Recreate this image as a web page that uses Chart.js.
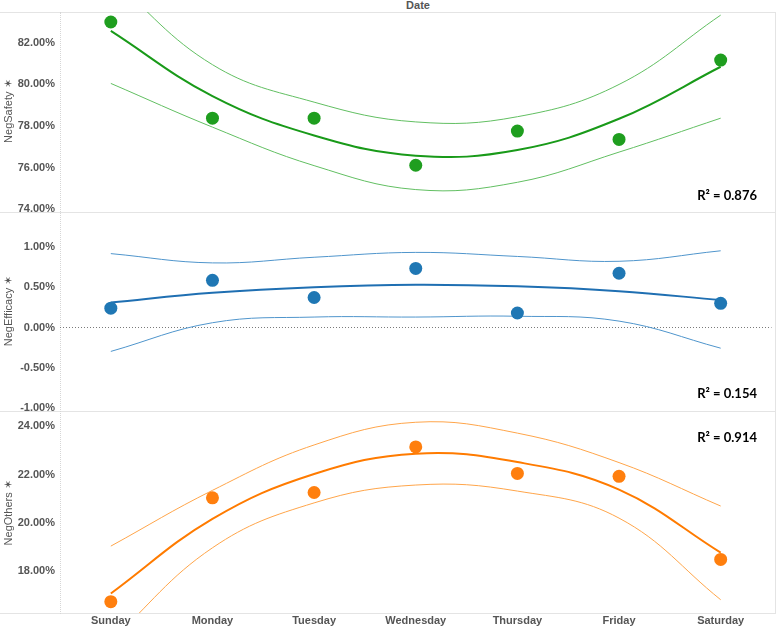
<!DOCTYPE html>
<html>
<head>
<meta charset="utf-8">
<script src="https://cdn.jsdelivr.net/npm/chart.js@4"></script>
<style>
  body { margin: 0; background: #fff; }
  #wrap { position: relative; width: 778px; height: 628px; overflow: hidden; font-family: "Liberation Sans", Arial, sans-serif; }
  canvas { position: absolute; left: 0; }
  .hline { position: absolute; left: 0; width: 775px; border-top: 1px solid #e4e4e4; }
  .vline { position: absolute; top: 12px; height: 602px; }
  .r2 { position: absolute; right: 21px; font: bold 13px Lato, "Open Sans", sans-serif; color: #000; line-height: 14px; }
  #head { position: absolute; top: 0; left: 60px; width: 716px; text-align: center; font-weight: bold; font-size: 11px; color: #555; line-height: 11px; }
</style>
</head>
<body>
<div id="wrap">
  <div id="head">Date</div>
  <div class="hline" style="top:12px"></div>
  <div class="hline" style="top:212px"></div>
  <div class="hline" style="top:411px"></div>
  <div class="hline" style="top:613px"></div>
  <div class="vline" style="left:60px; border-left:1px dotted #d6d6d6"></div>
  <div class="vline" style="left:775px; border-left:1px solid #e4e4e4"></div>
  <canvas id="safety" width="778" height="222" style="top:0px"></canvas>
  <canvas id="efficacy" width="778" height="218" style="top:202px"></canvas>
  <canvas id="others" width="778" height="227" style="top:401px"></canvas>
  <div class="r2" style="top:188px">R² = 0.876</div>
  <div class="r2" style="top:386px">R² = 0.154</div>
  <div class="r2" style="top:430px">R² = 0.914</div>
</div>
<script>
// days of the week on the x axis
const days = ["Sunday", "Monday", "Tuesday", "Wednesday", "Thursday", "Friday", "Saturday"];

// NegSafety (%)
const safetyPoints = [83.0, 78.38, 78.38, 76.12, 77.76, 77.36, 81.17];
const safetyTrend  = [82.57, 79.44, 77.55, 76.58, 76.85, 78.35, 80.85];
const safetyUpper  = [85.1, 80.95, 79.15, 78.2, 78.45, 80.0, 83.33];
const safetyLower  = [80.05, 77.95, 76.1, 74.95, 75.3, 76.75, 78.38];
const safetyTicks  = [74, 76, 78, 80, 82];

// NegEfficacy (%)
const efficacyPoints = [0.24, 0.585, 0.372, 0.732, 0.18, 0.672, 0.30];
const efficacyTrend  = [0.31, 0.43, 0.50, 0.53, 0.51, 0.45, 0.34];
const efficacyUpper  = [0.915, 0.80, 0.87, 0.93, 0.88, 0.82, 0.95];
const efficacyLower  = [-0.295, 0.06, 0.13, 0.13, 0.14, 0.08, -0.255];
const efficacyTicks  = [-1, -0.5, 0, 0.5, 1];

// NegOthers (%)
const othersPoints = [16.74, 21.04, 21.26, 23.15, 22.05, 21.93, 18.49];
const othersTrend  = [17.08, 20.17, 22.03, 22.87, 22.52, 21.38, 18.77];
const othersUpper  = [19.04, 21.35, 23.23, 24.17, 23.72, 22.5, 20.7];
const othersLower  = [15.12, 18.97, 20.83, 21.57, 21.32, 20.2, 16.82];
const othersTicks  = [18, 20, 22, 24];

const tickFont = { family: "Liberation Sans", size: 11, weight: "bold" };

function makePanel(id, o) {
  const datasets = [
    { data: o.points, showLine: false, pointRadius: 6.5, pointHoverRadius: 6.5,
      pointBorderWidth: 0, backgroundColor: o.dot, borderColor: o.dot, order: 0 },
    { data: o.trend, borderColor: o.line, borderWidth: 2, pointRadius: 0, tension: 0.4, order: 1 },
    { data: o.upper, borderColor: o.band, borderWidth: 1, pointRadius: 0, tension: 0.4, order: 2 },
    { data: o.lower, borderColor: o.band, borderWidth: 1, pointRadius: 0, tension: 0.4, order: 2 }
  ];
  const xAxis = {
    display: o.showX,
    offset: true,
    grid: { display: false, drawTicks: false },
    border: { display: false },
    ticks: { padding: 1, color: "#555", font: tickFont, maxRotation: 0, autoSkip: false }
  };
  if (o.showX) xAxis.afterFit = s => { s.height = 15; };

  new Chart(document.getElementById(id), {
    type: "line",
    data: { labels: days, datasets: datasets },
    options: {
      responsive: false,
      animation: false,
      events: [],
      layout: { padding: o.padding },
      plugins: { legend: { display: false }, tooltip: { enabled: false } },
      scales: {
        x: xAxis,
        y: {
          min: o.min,
          max: o.max,
          afterFit: s => { s.width = 60; },
          afterBuildTicks: s => { s.ticks = o.ticks.map(v => ({ value: v })); },
          grid: {
            display: !!o.zeroLine,
            drawTicks: false,
            color: c => (c.tick && c.tick.value === 0) ? "#7a7a7a" : "rgba(0,0,0,0)"
          },
          border: { display: false, dash: [1, 2] },
          ticks: { padding: 5, color: "#555", font: tickFont, callback: v => v.toFixed(2) + "%" },
          title: { display: true, text: o.title, color: "#555",
                   font: { family: "Liberation Sans", size: 11 }, padding: { top: 2, bottom: 0 } }
        }
      }
    }
  });
}

makePanel("safety", {
  points: safetyPoints, trend: safetyTrend, upper: safetyUpper, lower: safetyLower, ticks: safetyTicks,
  min: 73.95, max: 83.48, title: "NegSafety ✶", showX: false,
  padding: { top: 12, bottom: 8, left: 0, right: 2 },
  dot: "#1f9e1f", line: "#199a19", band: "#62bf62"
});

makePanel("efficacy", {
  points: efficacyPoints, trend: efficacyTrend, upper: efficacyUpper, lower: efficacyLower, ticks: efficacyTicks,
  min: -1.0, max: 1.41, title: "NegEfficacy ✶", showX: false, zeroLine: true,
  padding: { top: 10, bottom: 8, left: 0, right: 2 },
  dot: "#1f77b4", line: "#1f6fb2", band: "#4f95cc"
});

makePanel("others", {
  points: othersPoints, trend: othersTrend, upper: othersUpper, lower: othersLower, ticks: othersTicks,
  min: 16.27, max: 24.57, title: "NegOthers ✶", showX: true,
  padding: { top: 10, bottom: 0, left: 0, right: 2 },
  dot: "#ff7f0e", line: "#ff7b00", band: "#ffa54a"
});
</script>
</body>
</html>
